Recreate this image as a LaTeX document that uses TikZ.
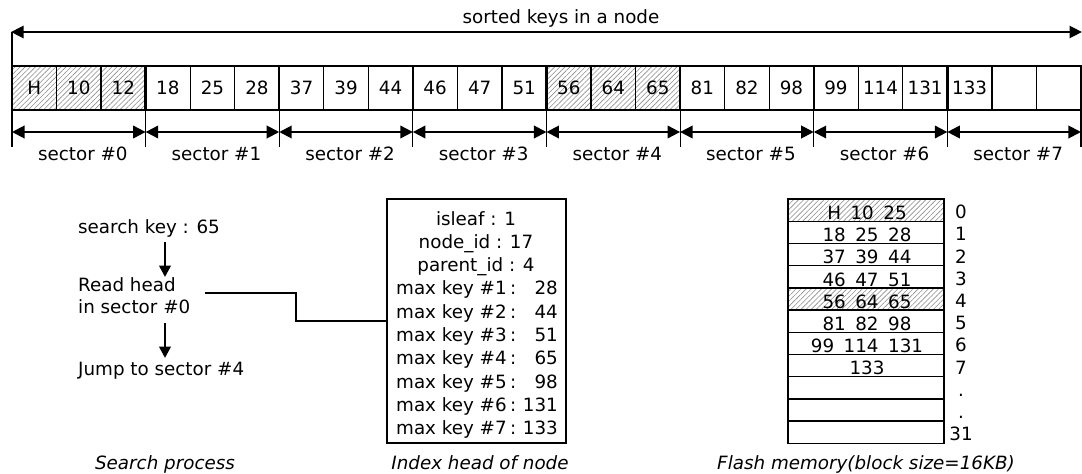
\documentclass[tikz,border=0pt]{standalone}
\usepackage{fontspec}
\setmainfont{DejaVu Sans}
\usetikzlibrary{arrows.meta,patterns.meta,calc}
\newcommand{\fsz}{\fontsize{18.3}{22}\selectfont}
\newcommand{\gp}{\hspace{9.5pt}}
\begin{document}
\begin{tikzpicture}[x=1pt,y=-1pt,
  txt/.style={font=\fsz, inner sep=0pt, anchor=base},
  captxt/.style={font=\fsz\itshape, inner sep=0pt, anchor=base},
  cell/.style={draw, line width=1.3pt, minimum width=44.54pt, minimum height=44pt, inner sep=0pt, font=\fsz},
  hatch/.style={pattern={Lines[angle=45,distance=3.6pt,line width=0.6pt]}, pattern color=black!45},
  plain/.style={},
  frow/.style={draw, line width=1.4pt, minimum width=156pt, minimum height=22.2pt, inner sep=0pt},
  dimtop/.style={line width=2.6pt, {Triangle[length=12.5pt,width=12pt]}-{Triangle[length=12.5pt,width=12pt]}, shorten <=-1pt, shorten >=-1pt},
  dim/.style={line width=2pt, {Triangle[length=12.5pt,width=12.5pt]}-{Triangle[length=12.5pt,width=12.5pt]}},
  varrow/.style={line width=2.6pt, -{Triangle[length=11.5pt,width=11.5pt]}},
  conn/.style={line width=1.2pt},
  tick/.style={line width=1.2pt}
]
\useasboundingbox (0,0) rectangle (1082,474);

% ---- top arrow ----
\coordinate (tl) at (12,32);
\coordinate (tr) at (1081,32);
\draw[tick] (12,32) -- (12,66);
\draw[dimtop] (tl) -- (tr);
\node[txt] (title) at (561,23) {sorted keys in a node};

% ---- cells ----
\foreach \k [count=\i from 0] in {H,10,12,18,25,28,37,39,44,46,47,51,56,64,65,81,82,98,99,114,131,133,{},{}} {
  \pgfmathtruncatemacro\hh{(\i<3)||((\i>11)&&(\i<15))}
  \ifnum\hh=1 \def\st{hatch}\else\def\st{plain}\fi
  \node[cell,\st] (c\i) at ({12+(\i+0.5)*44.54},88) {\k};
}

% ---- sector boundaries, arrows, labels ----
\foreach \s in {0,...,8} {
  \coordinate (s\s) at ({12+3*\s*44.54},132);
  \draw[tick] ({12+3*\s*44.54},110) -- ({12+3*\s*44.54},147);
}
\foreach \s in {1,...,7} {
  \draw[line width=2.4pt] ({12+3*\s*44.54},66) -- ({12+3*\s*44.54},110);
}
\foreach \s [evaluate=\s as \n using int(\s+1)] in {0,...,7} {
  \draw[dim] (s\s) -- (s\n);
  \node[txt] (sl\s) at ({12+(3*\s+1.5)*44.54+4},160) {sector \#\s};
}

% ---- search process ----
\node[txt, anchor=base west] (sk) at (78,233) {search key : 65};
\node[txt, anchor=base west] (rh1) at (78,291) {Read head};
\node[txt, anchor=base west] (rh2) at (78,313) {in sector \#0};
\node[txt, anchor=base west] (jp) at (78,375) {Jump to sector \#4};
\coordinate (a1s) at (165,242);
\coordinate (a1e) at (165,277);
\coordinate (a2s) at (165,323);
\coordinate (a2e) at (165,358);
\draw[varrow] (a1s) -- (a1e);
\draw[varrow] (a2s) -- (a2e);
\node[captxt] (cap1) at (165,469) {Search process};

% ---- index head ----
\node[draw, line width=1.3pt, minimum width=179pt, minimum height=244pt, inner sep=0pt] (ib) at (476.5,321) {};
\coordinate (rhs) at (205,293);
\coordinate (bend) at (296,321);
\draw[conn] (rhs) -| (bend) -- (ib.west);
\node[txt] (l1) at (476,225) {isleaf : 1};
\node[txt] (l2) at (476,248.3) {node\_id : 17};
\node[txt] (l3) at (476,271.6) {parent\_id : 4};
\foreach \v [count=\j from 1] in {28,44,51,65,98,131,133} {
  \node[txt, anchor=base west] (mk\j) at (396,{271.6+23.3*\j}) {max key \#\j\hspace{3.5pt}:};
  \node[txt, anchor=base east] (mv\j) at (558,{271.6+23.3*\j}) {\v};
}
\node[captxt] (cap2) at (480,469) {Index head of node};

% ---- flash memory ----
\foreach \t/\lab [count=\i from 0] in {H\gp10\gp25/0, 18\gp25\gp28/1, 37\gp39\gp44/2, 46\gp47\gp51/3, 56\gp64\gp65/4, 81\gp82\gp98/5, 99\gp114\gp131/6, 133/7, {}/., {}/., {}/31} {
  \ifnum\i=0 \def\st{hatch}\else\ifnum\i=4 \def\st{hatch}\else\def\st{plain}\fi\fi
  \node[frow,\st] (f\i) at (866,{199+22.2*(\i+0.5)}) {};
  \node[txt] (ft\i) at (867,{199+22.2*(\i+1)-1.8}) {\t};
  \node[txt] (fl\i) at (961,{199+22.2*(\i+1)-2.5}) {\lab};
}
\node[captxt] (cap3) at (866,469) {Flash memory(block size=16KB)};
\end{tikzpicture}
\end{document}
